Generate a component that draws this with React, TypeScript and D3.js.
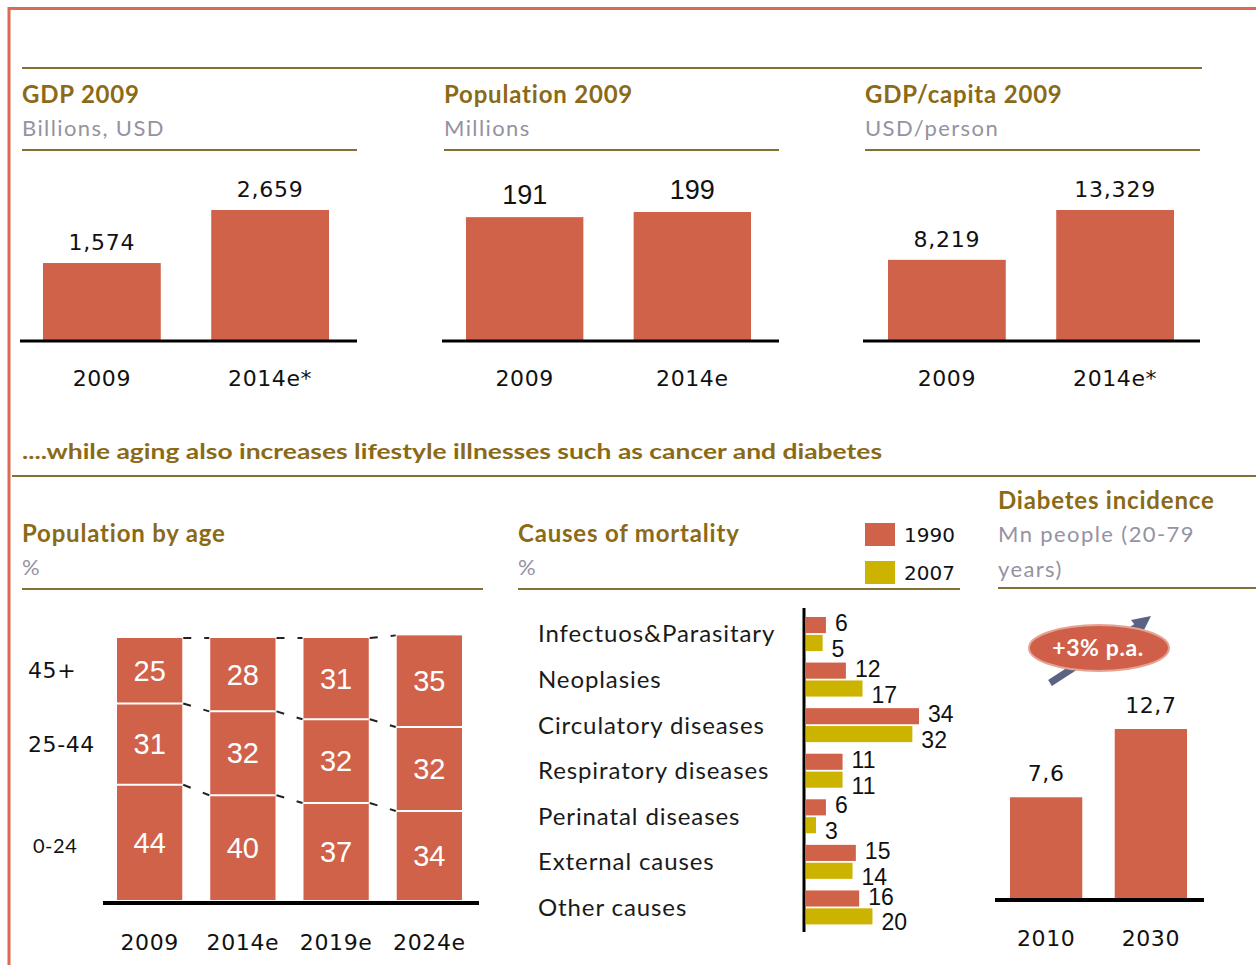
import React from 'react';
import * as d3 from 'd3';

// ---------- DATA ----------
const gdpYears = ['2009', '2014e*'];
const gdpValues = [1574, 2659];
const popYears = ['2009', '2014e'];
const popValues = [191, 199];
const gdpCapYears = ['2009', '2014e*'];
const gdpCapValues = [8219, 13329];

const ageYears = ['2009', '2014e', '2019e', '2024e'];
const ageGroups = ['0-24', '25-44', '45+'];
const age0to24 = [44, 40, 37, 34];
const age25to44 = [31, 32, 32, 32];
const age45plus = [25, 28, 31, 35];

const causes = [
  'Infectuos&Parasitary',
  'Neoplasies',
  'Circulatory diseases',
  'Respiratory diseases',
  'Perinatal diseases',
  'External causes',
  'Other causes',
];
const mortYears = ['1990', '2007'];
const mort1990 = [6, 12, 34, 11, 6, 15, 16];
const mort2007 = [5, 17, 32, 11, 3, 14, 20];

const diabYears = ['2010', '2030'];
const diabValues = [7.6, 12.7];

// ---------- STYLE ----------
const BAR = '#D1624A';
const YEL = '#CBB300';
const GOLD_LINE = '#857033';
const GOLD_TEXT = '#8B6A17';
const SUB_TEXT = '#9592A2';
const BORDER = '#DA6B55';
const DEJAVU = "'DejaVu Sans', Verdana, sans-serif";
const LATO = "Lato, 'Open Sans', sans-serif";
const NARROW = "'Liberation Sans Narrow', 'Arial Narrow', 'Liberation Sans', Arial, sans-serif";
const ARIAL = "'Liberation Sans', Arial, sans-serif";

const fmtThousands = d3.format(',');
const commaLocale = d3.formatLocale({ decimal: ',', thousands: '.', grouping: [3], currency: ['', ''] });
const fmtDec = commaLocale.format('.1f');

const titleProps = { fontFamily: LATO, fontWeight: 700, fontSize: 24, letterSpacing: 0.8, fill: GOLD_TEXT };
const subProps = { fontFamily: LATO, fontSize: 22, letterSpacing: 1.4, fill: SUB_TEXT };
const axisProps = { fontFamily: DEJAVU, fontSize: 22, letterSpacing: 0.6, fill: '#111' };

function TopPanel({ x0, x1, title, sub, years, values, barRange, maxH, valueFont, valueSize, valueSpacing }: any) {
  const baseY = 340;
  const xs = d3.scaleBand<string>().domain(years).range(barRange).paddingInner(0.3).paddingOuter(0);
  const ys = d3.scaleLinear().domain([0, d3.max(values as number[]) as number]).range([0, maxH]);
  return (
    <g>
      <text x={x0} y={103} {...titleProps}>{title}</text>
      <text x={x0} y={136} {...subProps}>{sub}</text>
      <line x1={x0} x2={x1} y1={150} y2={150} stroke={GOLD_LINE} strokeWidth={2} />
      {years.map((yr: string, i: number) => {
        const h = ys(values[i]);
        const bx = xs(yr) as number;
        return (
          <g key={yr}>
            <rect x={bx} y={baseY - h} width={xs.bandwidth()} height={h} fill={BAR} />
            <text x={bx + xs.bandwidth() / 2} y={baseY - h - 13} textAnchor="middle" fontFamily={valueFont}
              fontSize={valueSize} letterSpacing={valueSpacing} fill="#111">
              {fmtThousands(values[i])}
            </text>
            <text x={bx + xs.bandwidth() / 2} y={386} textAnchor="middle" {...axisProps}>{yr}</text>
          </g>
        );
      })}
      <line x1={x0 - 2} x2={x1} y1={baseY + 1} y2={baseY + 1} stroke="#000" strokeWidth={3} />
    </g>
  );
}

function AgeChart() {
  const xs = d3.scaleBand<string>().domain(ageYears).range([117, 462]).paddingInner(0.3).paddingOuter(0);
  const ys = d3.scaleLinear().domain([0, 100]).range([900, 638]);
  const series = [age0to24, age25to44, age45plus];
  const stacks = ageYears.map((_, i) => {
    let acc = 0;
    return series.map((s) => {
      const lo = acc;
      acc += s[i];
      return [lo, acc];
    });
  });
  const bw = xs.bandwidth();
  const connectors: any[] = [];
  for (let i = 0; i < ageYears.length - 1; i++) {
    for (let k = 0; k < series.length; k++) {
      connectors.push(
        <line key={`c${i}-${k}`} x1={(xs(ageYears[i]) as number) + bw + 1} y1={ys(stacks[i][k][1])}
          x2={(xs(ageYears[i + 1]) as number) - 1} y2={ys(stacks[i + 1][k][1])}
          stroke="#222" strokeWidth={2} strokeDasharray="8,13" />
      );
    }
  }
  return (
    <g>
      <text x={22} y={542} {...titleProps}>Population by age</text>
      <text x={22} y={575} {...subProps}>%</text>
      <line x1={22} x2={483} y1={589} y2={589} stroke={GOLD_LINE} strokeWidth={2} />
      {connectors}
      {ageYears.map((yr, i) => {
        const bx = xs(yr) as number;
        return (
          <g key={yr}>
            {stacks[i].map(([lo, hi], k) => (
              <g key={k}>
                <rect x={bx} y={ys(hi)} width={bw} height={ys(lo) - ys(hi)} fill={BAR} />
                {k > 0 && <line x1={bx} x2={bx + bw} y1={ys(lo)} y2={ys(lo)} stroke="#fff" strokeWidth={2} />}
                <text x={bx + bw / 2} y={(ys(lo) + ys(hi)) / 2} dy="0.35em" textAnchor="middle"
                  fontFamily={NARROW} fontSize={29} fill="#fff">{series[k][i]}</text>
              </g>
            ))}
            <text x={bx + bw / 2} y={950} textAnchor="middle" {...axisProps}>{yr}</text>
          </g>
        );
      })}
      {ageGroups.map((g, k) => {
        const [lo, hi] = stacks[0][k];
        const cy = (ys(lo) + ys(hi)) / 2 + (k === 0 ? 4 : 0);
        return k === 0 ? (
          <text key={g} x={33} y={cy} dy="0.35em" fontFamily={LATO} fontSize={20} letterSpacing={0.5} fill="#111">{g}</text>
        ) : (
          <text key={g} x={28} y={cy} dy="0.35em" {...axisProps}>{g}</text>
        );
      })}
      <line x1={103} x2={479} y1={903} y2={903} stroke="#000" strokeWidth={4} />
    </g>
  );
}

function MortalityChart() {
  const ys = d3.scaleBand<string>().domain(causes).range([613, 932]).padding(0);
  const inner = d3.scaleBand<string>().domain(mortYears).range([4, 38]).paddingInner(0.1);
  const xs = d3.scaleLinear().domain([0, 34]).range([806, 919]);
  const vals = [mort1990, mort2007];
  const cols = [BAR, YEL];
  return (
    <g>
      <text x={518} y={542} {...titleProps}>Causes of mortality</text>
      <text x={518} y={575} {...subProps}>%</text>
      <line x1={518} x2={960} y1={589} y2={589} stroke={GOLD_LINE} strokeWidth={2} />
      {mortYears.map((yr, j) => (
        <g key={yr}>
          <rect x={865} y={j === 0 ? 523 : 561} width={30} height={23} fill={cols[j]} />
          <text x={904} y={j === 0 ? 535 : 573} dy="0.35em" fontFamily={DEJAVU} fontSize={20} fill="#111">{yr}</text>
        </g>
      ))}
      {causes.map((c, i) => {
        const gy = ys(c) as number;
        return (
          <g key={c}>
            <text x={538} y={gy + 21} dy="0.35em" fontFamily={LATO} fontSize={24} letterSpacing={0.9} fill="#1a1a1a">{c}</text>
            {mortYears.map((yr, j) => {
              const by = gy + (inner(yr) as number);
              const bh = inner.bandwidth();
              return (
                <g key={yr}>
                  <rect x={xs(0)} y={by} width={xs(vals[j][i]) - xs(0)} height={bh} fill={cols[j]} />
                  <text x={xs(vals[j][i]) + 9} y={by + bh / 2 + (j === 0 ? -2 : 6)} dy="0.35em"
                    fontFamily={ARIAL} fontSize={23} fill="#111">{vals[j][i]}</text>
                </g>
              );
            })}
          </g>
        );
      })}
      <line x1={804} x2={804} y1={608} y2={932} stroke="#000" strokeWidth={3} />
    </g>
  );
}

function DiabetesChart() {
  const xs = d3.scaleBand<string>().domain(diabYears).range([1010, 1187]).paddingInner(0.31).paddingOuter(0);
  const ys = d3.scaleLinear().domain([0, 12.7]).range([899, 729]);
  return (
    <g>
      <text x={998} y={509} {...titleProps}>Diabetes incidence</text>
      <text x={998} y={542} {...subProps}>Mn people (20-79</text>
      <text x={998} y={577} {...subProps}>years)</text>
      <line x1={998} x2={1256} y1={588} y2={588} stroke={GOLD_LINE} strokeWidth={2} />
      {/* growth arrow */}
      <line x1={1050} x2={1138} y1={683} y2={626} stroke="#5A6382" strokeWidth={7} />
      <path d="M1151,616 L1131,620 L1142,634 Z" fill="#5A6382" />
      <ellipse cx={1099} cy={648} rx={70} ry={23} fill="#CF5F49" stroke="#E6A293" strokeWidth={2} />
      <text x={1098} y={648} dy="0.35em" textAnchor="middle" fontFamily={LATO} fontWeight={700} fontSize={23} letterSpacing={0.6} fill="#fff">+3% p.a.</text>
      {diabYears.map((yr, i) => {
        const bx = xs(yr) as number;
        return (
          <g key={yr}>
            <rect x={bx} y={ys(diabValues[i])} width={xs.bandwidth()} height={899 - ys(diabValues[i])} fill={BAR} />
            <text x={bx + xs.bandwidth() / 2} y={ys(diabValues[i]) - 16} textAnchor="middle" {...axisProps}>{fmtDec(diabValues[i])}</text>
            <text x={bx + xs.bandwidth() / 2} y={946} textAnchor="middle" {...axisProps}>{yr}</text>
          </g>
        );
      })}
      <line x1={995} x2={1204} y1={900} y2={900} stroke="#000" strokeWidth={4} />
    </g>
  );
}

export default function App() {
  return (
    <svg width={1256} height={965} style={{ position: 'absolute', left: 0, top: 0, display: 'block', background: '#fff' }}>
      {/* frame */}
      <line x1={8} x2={1256} y1={8.5} y2={8.5} stroke={BORDER} strokeWidth={3} />
      <line x1={9} x2={9} y1={7} y2={965} stroke={BORDER} strokeWidth={3} />
      <line x1={22} x2={1202} y1={68} y2={68} stroke={GOLD_LINE} strokeWidth={2} />

      <TopPanel x0={22} x1={357} title="GDP 2009" sub="Billions, USD" years={gdpYears} values={gdpValues}
        barRange={[43, 329]} maxH={130} valueFont={DEJAVU} valueSize={22} valueSpacing={0.8} />
      <TopPanel x0={444} x1={779} title="Population 2009" sub="Millions" years={popYears} values={popValues}
        barRange={[466, 751]} maxH={128} valueFont={ARIAL} valueSize={27} valueSpacing={0} />
      <TopPanel x0={865} x1={1200} title="GDP/capita 2009" sub="USD/person" years={gdpCapYears} values={gdpCapValues}
        barRange={[888, 1174]} maxH={130} valueFont={DEJAVU} valueSize={22} valueSpacing={0.8} />

      <text x={22} y={459} fontFamily={LATO} fontWeight={700} fontSize={21} fill={GOLD_TEXT}
        textLength={860} lengthAdjust="spacingAndGlyphs">....while aging also increases lifestyle illnesses such as cancer and diabetes</text>
      <line x1={12} x2={1256} y1={476} y2={476} stroke={GOLD_LINE} strokeWidth={2} />

      <AgeChart />
      <MortalityChart />
      <DiabetesChart />
    </svg>
  );
}
